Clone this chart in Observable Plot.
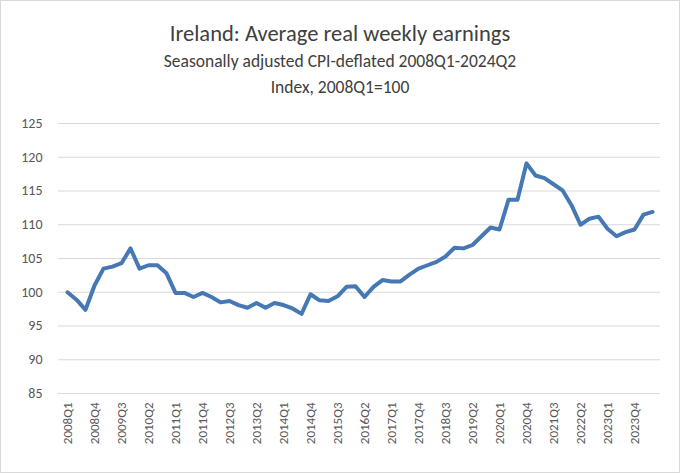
<!DOCTYPE html>
<html><head><meta charset="utf-8">
<script src="https://cdn.jsdelivr.net/npm/d3@7"></script>
<script src="https://cdn.jsdelivr.net/npm/@observablehq/plot@0.6"></script>
<style>
body{margin:0;background:#fff;font-family:Calibri,Carlito,"Liberation Sans",sans-serif}
#c{width:678px;height:471px;border:1px solid #d9d9d9;position:relative;overflow:hidden}
.t{text-align:center;color:#404040}
</style></head><body><div id="c">
<div class="t" style="font-size:22.5px;margin-top:19px;line-height:27px">Ireland: Average real weekly earnings</div>
<div class="t" style="font-size:17.5px;line-height:26px;margin-top:1px">Seasonally adjusted CPI-deflated 2008Q1-2024Q2</div>
<div class="t" style="font-size:17.5px;line-height:26px">Index, 2008Q1=100</div>
<div id="p"></div>
</div>
<script>
const years=d3.range(2008,2025);
const quarters=[];
for(const y of years)for(let q=1;q<=4;q++){if(y===2024&&q>2)break;quarters.push(y+"Q"+q);}
const values=[100,98.9,97.4,101,103.5,103.8,104.3,106.5,103.5,104,104,102.8,99.9,99.9,99.3,99.9,99.3,98.5,98.7,98.1,97.7,98.4,97.7,98.4,98.1,97.6,96.8,99.7,98.8,98.7,99.4,100.8,100.9,99.3,100.8,101.8,101.6,101.6,102.6,103.5,104,104.5,105.3,106.6,106.5,107,108.3,109.6,109.3,113.7,113.7,119.1,117.3,116.9,116,115.1,112.9,110,110.9,111.2,109.4,108.3,108.9,109.3,111.5,111.9];
const yTicks=[85,90,95,100,105,110,115,120,125];
const xTicks=quarters.filter((d,i)=>i%3===0);
const data=quarters.map((q,i)=>({q,v:values[i]}));
const chart=Plot.plot({
  width:678,height:372,marginLeft:57,marginRight:19,marginTop:23,marginBottom:79,
  style:{fontFamily:"Calibri,Carlito,'Liberation Sans',sans-serif",fontSize:"14px",color:"#595959"},
  x:{type:"point",domain:quarters,padding:0.5,ticks:xTicks,tickRotate:-90,tickSize:0,label:null},
  y:{domain:[85,125],ticks:yTicks,tickSize:0,label:null,tickPadding:16},
  marks:[
    Plot.ruleY(yTicks,{stroke:"#d9d9d9",strokeWidth:1}),
    Plot.line(data,{x:"q",y:"v",stroke:"#4678b4",strokeWidth:4,strokeLinejoin:"round"})
  ]
});
chart.querySelectorAll("g[aria-label='x-axis tick label'] text").forEach(t=>t.style.fontSize="13px");
document.getElementById("p").appendChild(chart);
</script></body></html>
